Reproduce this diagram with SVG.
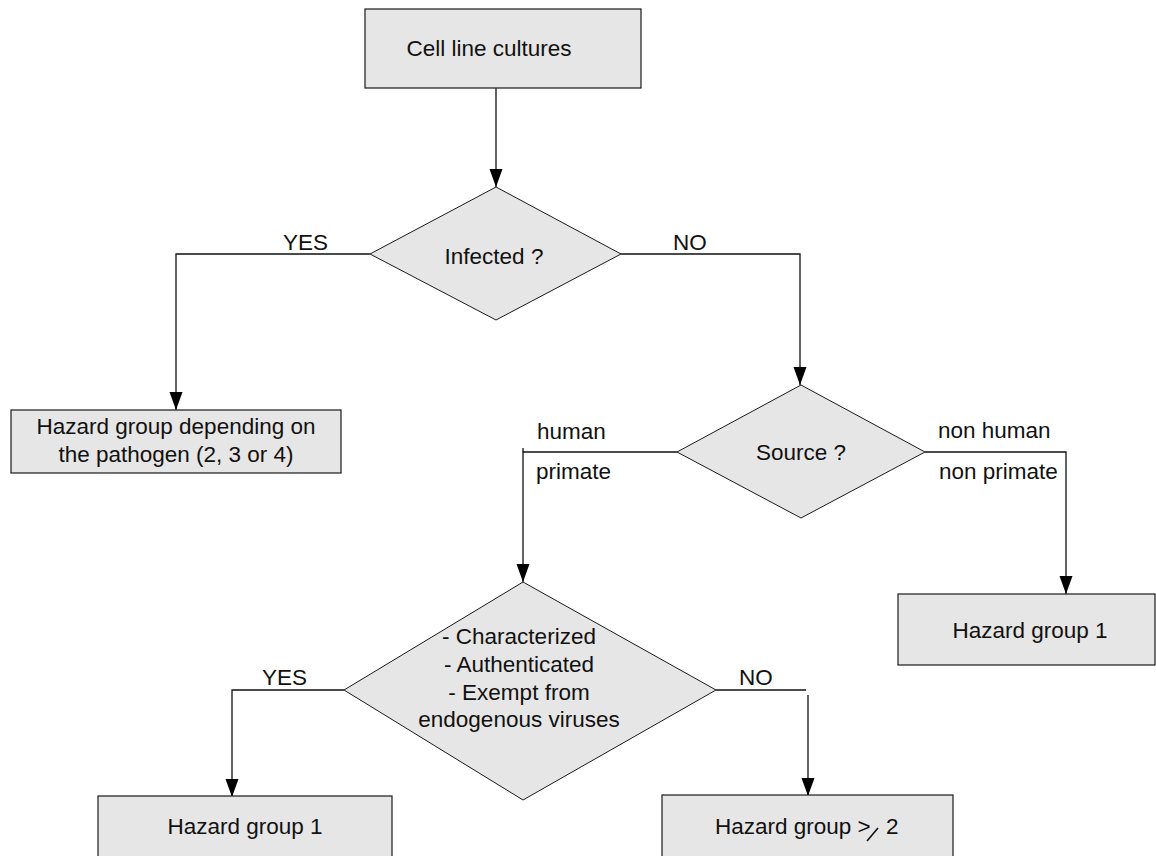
<svg xmlns="http://www.w3.org/2000/svg" width="1156" height="856" viewBox="0 0 1156 856">
  <style>
    .box { fill: #e6e6e6; stroke: #1a1a1a; stroke-width: 1.2; }
    .dia { fill: #e6e6e6; stroke: #1a1a1a; stroke-width: 1; }
    .ln { fill: none; stroke: #111; stroke-width: 1.3; }
    .t { font-family: "Liberation Sans", Arial, sans-serif; font-size: 22.5px; fill: #111; text-anchor: middle; }
    .lbl { font-family: "Liberation Sans", Arial, sans-serif; font-size: 22.5px; fill: #111; }
    .head { fill: #000; }
  </style>
  <rect width="1156" height="856" fill="#fff"/>

  <!-- connectors and their branch labels -->
  <g id="connectors">
    <path class="ln" d="M496,88 V187"/>
    <path class="ln" d="M370,254 H176 V410"/>
    <path class="ln" d="M621,254 H800 V385"/>
    <path class="ln" d="M677,452 H523 V582"/>
    <path class="ln" d="M523,448 V452"/>
    <path class="ln" d="M925,452 H1066 V594"/>
    <path class="ln" d="M344,690 H232 V797"/>
    <path class="ln" d="M716,690 H806"/>
    <path class="ln" d="M808,695 V796"/>
    <polygon class="head" points="489.5,169 502.5,169 496,187"/>
    <polygon class="head" points="169.5,392 182.5,392 176,410"/>
    <polygon class="head" points="793.5,367 806.5,367 800,385"/>
    <polygon class="head" points="516.5,564 529.5,564 523,582"/>
    <polygon class="head" points="1059.5,576 1072.5,576 1066,594"/>
    <polygon class="head" points="225.5,779 238.5,779 232,797"/>
    <polygon class="head" points="801.5,778 814.5,778 808,796"/>
    <text class="lbl" x="283" y="250">YES</text>
    <text class="lbl" x="673" y="250">NO</text>
    <text class="lbl" x="537" y="439">human</text>
    <text class="lbl" x="536" y="479">primate</text>
    <text class="lbl" x="938" y="438">non human</text>
    <text class="lbl" x="939" y="479">non primate</text>
    <text class="lbl" x="262" y="685">YES</text>
    <text class="lbl" x="739" y="685">NO</text>
  </g>

  <g id="start">
    <rect class="box" x="365" y="9" width="276" height="79"/>
    <text class="t" x="489" y="56">Cell line cultures</text>
  </g>

  <g id="infected">
    <polygon class="dia" points="496,187 621,254 496,320 370,254"/>
    <text class="t" x="494" y="264">Infected ?</text>
  </g>

  <g id="pathogen">
    <rect class="box" x="11" y="410" width="330" height="63"/>
    <text class="t" x="176" y="434">Hazard group depending on</text>
    <text class="t" x="176" y="462">the pathogen (2, 3 or 4)</text>
  </g>

  <g id="source">
    <polygon class="dia" points="801,385 925,452 801,518 677,452"/>
    <text class="t" x="801" y="460">Source ?</text>
  </g>

  <g id="nonhuman-group">
    <rect class="box" x="898" y="594" width="257" height="71"/>
    <text class="t" x="1030" y="638">Hazard group 1</text>
  </g>

  <g id="criteria">
    <polygon class="dia" points="523,582 716,690 523,800 344,690"/>
    <text class="t" x="519" y="644">- Characterized</text>
    <text class="t" x="519" y="672">- Authenticated</text>
    <text class="t" x="519" y="700">- Exempt from</text>
    <text class="t" x="519" y="727">endogenous viruses</text>
  </g>

  <g id="group1">
    <rect class="box" x="98" y="796" width="294" height="70"/>
    <text class="t" x="245" y="834">Hazard group 1</text>
  </g>

  <g id="group2">
    <rect class="box" x="662" y="795" width="291" height="70"/>
    <text class="lbl" x="715" y="834">Hazard group &gt;</text>
    <line x1="867" y1="841" x2="878" y2="828" stroke="#111" stroke-width="1.6"/>
    <text class="lbl" x="886" y="834">2</text>
  </g>
</svg>
